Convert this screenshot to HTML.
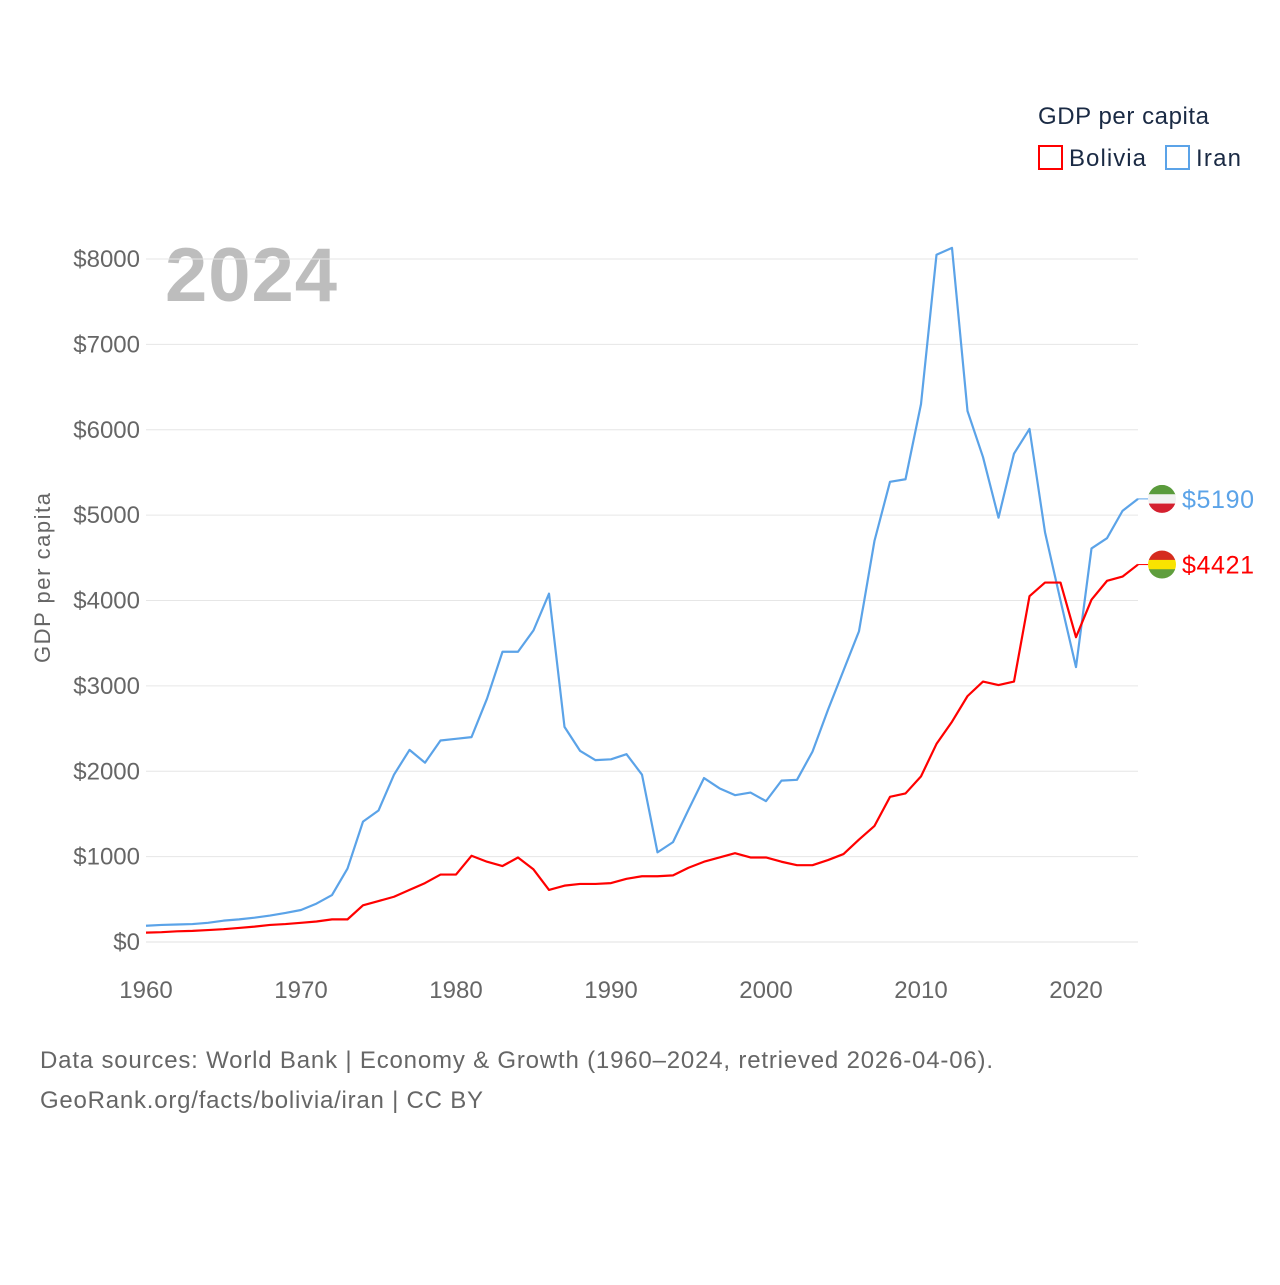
<!DOCTYPE html>
<html><head><meta charset="utf-8"><style>
body{margin:0;background:#fff;font-family:"Liberation Sans",sans-serif}
svg text{font-family:"Liberation Sans",sans-serif}
</style></head><body>
<svg id="chart" width="1280" height="1280">
<text x="1038" y="124" font-size="24" fill="#1a2a44" textLength="171">GDP per capita</text>
<g><rect x="1039" y="146" width="23" height="23" fill="none" stroke="#ff0000" stroke-width="2"/><text x="1069" y="166" font-size="24" fill="#1a2a44" textLength="77">Bolivia</text></g>
<g><rect x="1166" y="146" width="23" height="23" fill="none" stroke="#5ba3e8" stroke-width="2"/><text x="1196" y="166" font-size="24" fill="#1a2a44" textLength="45">Iran</text></g>
<text x="165" y="301" font-size="76" font-weight="bold" fill="#bdbdbd" textLength="172">2024</text>
<text transform="translate(50,578) rotate(-90)" text-anchor="middle" font-size="22" fill="#666" textLength="170">GDP per capita</text>
<g id="grid"></g><g id="lines"></g><g id="labels"></g>
<text x="40" y="1068" font-size="24" fill="#666" textLength="953">Data sources: World Bank | Economy &amp; Growth (1960–2024, retrieved 2026-04-06).</text>
<text x="40" y="1108" font-size="24" fill="#666" textLength="443">GeoRank.org/facts/bolivia/iran | CC BY</text>
</svg>
<script>
const years=[];for(let y=1960;y<=2024;y++)years.push(y);
const iran=[190,200,205,210,225,250,265,285,310,340,375,450,550,860,1410,1540,1960,2250,2100,2360,2380,2400,2850,3400,3400,3650,4080,2520,2240,2130,2140,2200,1960,1050,1170,1550,1920,1800,1720,1750,1650,1890,1900,2230,2720,3180,3640,4700,5390,5420,6300,8050,8130,6220,5680,4970,5720,6010,4800,4000,3220,4610,4730,5050,5190];
const bolivia=[110,115,125,130,140,150,165,180,200,210,225,240,265,265,430,480,530,610,690,790,790,1010,940,890,990,850,610,660,680,680,690,740,770,770,780,870,940,990,1040,990,990,940,900,900,960,1030,1200,1360,1700,1740,1940,2320,2580,2880,3050,3010,3050,4050,4210,4210,3570,4010,4230,4280,4421];
const yTicks=[0,1000,2000,3000,4000,5000,6000,7000,8000];
const xTicks=[1960,1970,1980,1990,2000,2010,2020];
const NS="http://www.w3.org/2000/svg";
const X=y=>146+(y-1960)*15.5, Y=v=>942-v*0.085375;
function mk(t,a,p){const e=document.createElementNS(NS,t);for(const k in a)e.setAttribute(k,a[k]);p.appendChild(e);return e;}
const g=document.getElementById('grid');
yTicks.forEach(v=>{const l=mk('line',{x1:146,x2:1138,y1:Y(v),y2:Y(v),stroke:v?'#e6e6e6':'#e0e0e0','stroke-width':1},g);


const t=mk('text',{x:140,y:Y(v)+8,'text-anchor':'end','font-size':24,fill:'#666'},g);t.textContent='$'+v;

});
xTicks.forEach(v=>{const t=mk('text',{x:X(v),y:998,'text-anchor':'middle','font-size':24,fill:'#666'},g);t.textContent=v;

});
const L=document.getElementById('lines');
function line(d,c,n){const p=mk('polyline',{points:d.map((v,i)=>X(years[i])+','+Y(v)).join(' '),fill:'none',stroke:c,'stroke-width':2.2,'stroke-linejoin':'round'},L);

}
line(iran,'#5ba3e8','iran-line');line(bolivia,'#ff0000','bolivia-line');
const lb=document.getElementById('labels');
function endLabel(d,c,n,flag){const v=d[d.length-1],y=Y(v);
mk('line',{x1:1138,x2:1148,y1:y,y2:y,stroke:c,'stroke-width':1},lb);
const gg=mk('g',{},lb);


const cp=mk('clipPath',{id:'c'+n},gg);
mk('circle',{cx:1162,cy:y,r:14},cp);
flag.forEach((col,i)=>mk('rect',{x:1148,y:y-14+i*28/3,width:28,height:28/3+0.5,fill:col,'clip-path':'url(#c'+n+')'},gg));
const t=mk('text',{x:1182,y:y+9,'font-size':25,fill:c,textLength:72},lb);t.textContent='$'+v;

}
endLabel(iran,'#5ba3e8','iran',['#5a9b3c','#f2f2f2','#d4202f']);
endLabel(bolivia,'#ff0000','bolivia',['#d52b1e','#f9e300','#5f9e3d']);
</script>
</body></html>
